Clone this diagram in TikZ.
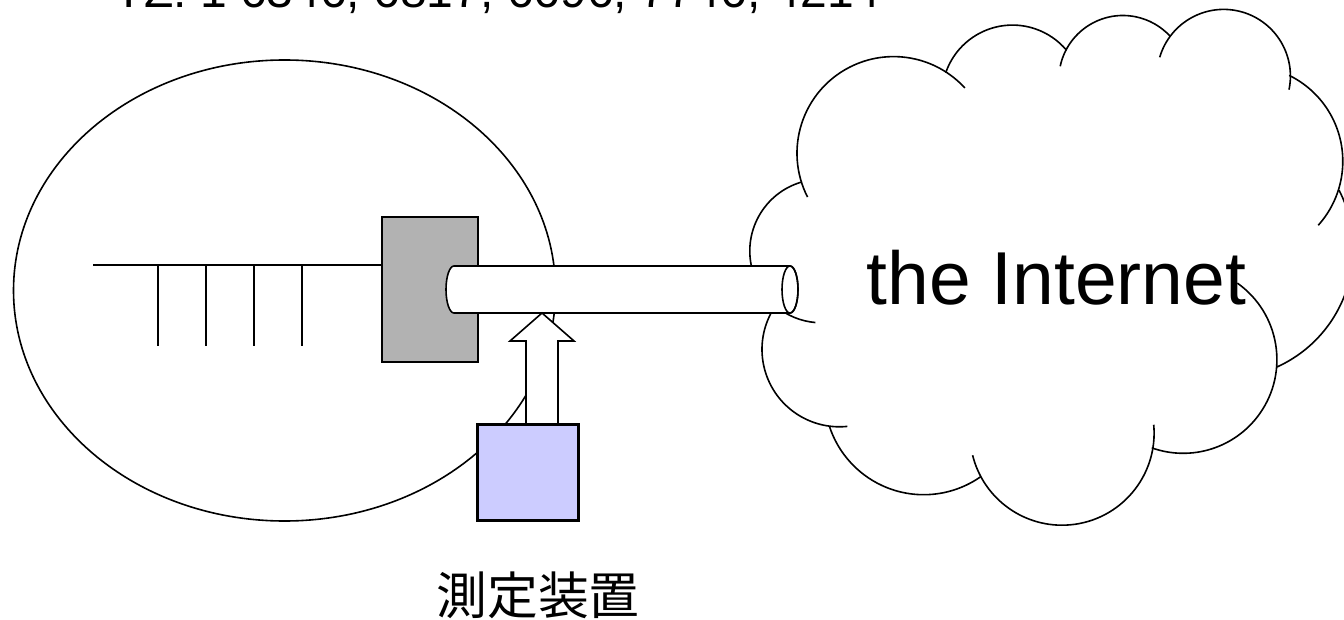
\documentclass[tikz,border=0pt]{standalone}
\usepackage{fontspec}
\setmainfont{Liberation Sans}
\newfontfamily\jpfont{Noto Sans CJK JP}
\usepackage{tikz}
\usetikzlibrary{shapes.geometric}
\definecolor{routergray}{RGB}{178,178,178}
\definecolor{meterblue}{RGB}{204,204,255}
\tikzset{
  box/.style={draw, line width=0.8pt, inner sep=0pt}
}

\begin{document}
\begin{tikzpicture}[x=0.5pt, y=-0.5pt, line width=0.8pt]
\useasboundingbox (0,0) rectangle (1344,620);
\clip (0,0) rectangle (1344,620);

\node[anchor=base west, inner sep=0pt, font=\fontsize{24}{28}\selectfont] (refs) at (114,8) {TZ: 1 6346, 6817, 6696, 7746, 4214};

\node[ellipse, box, minimum width=271pt, minimum height=230.5pt] (lan) at (284.5,290.5) {};

\coordinate (busend) at (93,265);
\node[box, fill=routergray, minimum width=48pt, minimum height=72.5pt] (router) at (430,289.5) {};
\draw (busend) -- (busend -| router.west);
\foreach \x in {158,206,254,302}
  \draw (\x,265) -- (\x,346);

\foreach \cx/\cy/\r/\a/\b in {893.6/153.2/48.3pt/207/42.5, 1012.5/95.7/35.3pt/161/40,
    1122.9/79.6/32.05pt/168/43, 1223.7/76.1/33.35pt/163.6/-11.7, 1247.2/161.3/47.8pt/64/-42,
    1223.8/249/64.7pt/27/-66, 1183.2/359.6/46.85pt/54.7/-109.6, 1062/433.1/46.05pt/5.2/-166.1,
    923.7/395.5/49.6pt/-55/-162, 839.4/349.4/38.7pt/150/275.9, 821.6/251/35.9pt/106/265}
  \draw ([shift={(\a:\r)}]\cx,\cy) arc[start angle=\a, end angle=\b, radius=\r];

\node[anchor=base west, inner sep=0pt, font=\fontsize{37.5}{40}\selectfont] (internet) at (866,305) {the Internet};

\coordinate (pipeL) at (454,289.5);
\coordinate (pipeR) at (790,289.5);
\filldraw[fill=white] ([yshift=11.75pt]pipeL) -- ([yshift=11.75pt]pipeR)
  arc[start angle=90, end angle=-90, x radius=4pt, y radius=11.75pt]
  -- ([yshift=-11.75pt]pipeL)
  arc[start angle=270, end angle=90, x radius=4pt, y radius=11.75pt] -- cycle;
\draw (pipeR) ellipse [x radius=4pt, y radius=11.75pt];

\node[box, fill=meterblue, minimum width=50pt, minimum height=47.5pt] (meter) at (528,472.5) {};
\coordinate (tip) at (542,313);
\filldraw[fill=white] (tip) -- ++(32,28) -- ++(-16,0) -- ++(0,84) -- ++(-32,0)
  -- ++(0,-84) -- ++(-16,0) -- cycle;
\draw (meter.north west) rectangle (meter.south east);

\node[inner sep=0pt, font=\jpfont\fontsize{25.4}{28}\selectfont] (label) at (538,595) {測定装置};
\end{tikzpicture}
\end{document}
